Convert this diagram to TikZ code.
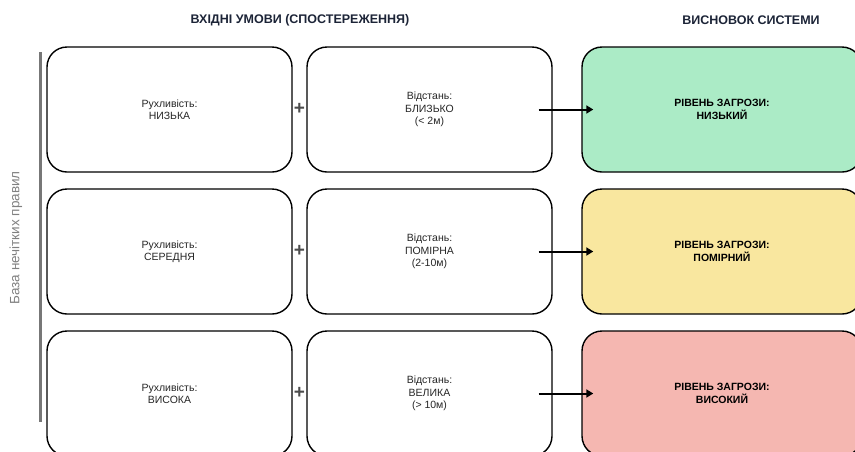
\documentclass[tikz,border=0pt]{standalone}
\usepackage{fontspec}
\setmainfont{Liberation Sans}
\usetikzlibrary{arrows.meta,calc}
\definecolor{hdr}{HTML}{1C2437}
\definecolor{lowc}{HTML}{ABEBC6}
\definecolor{midc}{HTML}{F9E79F}
\definecolor{highc}{HTML}{F5B7B1}
\definecolor{bargray}{HTML}{777777}
\begin{document}
\begin{tikzpicture}[x=1pt,y=-1pt,
  inbox/.style={draw=black,line width=1.4pt,rounded corners=20pt,minimum width=245pt,minimum height=125pt,
    align=center,font=\fontsize{10.5}{12.5}\selectfont,text=black!85,fill=white},
  outbox/.style={inbox,minimum width=280pt,font=\fontsize{10.5}{12.5}\selectfont\bfseries,text=black},
  plussign/.style={font=\fontsize{19}{19}\selectfont\bfseries,text=black!70,inner sep=0pt},
  hdrtext/.style={font=\fontsize{12.5}{14}\selectfont\bfseries,text=hdr},
  conn/.style={line width=2pt,-{Triangle[length=7pt,width=8pt]}}]
\useasboundingbox (0,0) rectangle (855,451);
\node[hdrtext] (h1) at (300,20) {ВХІДНІ УМОВИ (СПОСТЕРЕЖЕННЯ)};
\node[hdrtext] (h2) at (751,20) {ВИСНОВОК СИСТЕМИ};
% left bar
\coordinate (bt) at (40,52);
\coordinate (bb) at (40,422);
\draw[bargray,line width=3pt] (bt) -- (bb);
\node[rotate=90,font=\fontsize{13.5}{15}\selectfont,text=black!50] (rb) at (16,238) {База нечітких правил};
% rows
\node[inbox] (a1) at (169.5,109.5) {Рухливість:\\НИЗЬКА};
\node[inbox] (b1) at (429.5,109.5) {Відстань:\\БЛИЗЬКО\\(< 2м)};
\node[outbox,fill=lowc] (c1) at (722,109.5) {РІВЕНЬ ЗАГРОЗИ:\\НИЗЬКИЙ};
\node[inbox] (a2) at (169.5,251.5) {Рухливість:\\СЕРЕДНЯ};
\node[inbox] (b2) at (429.5,251.5) {Відстань:\\ПОМІРНА\\(2-10м)};
\node[outbox,fill=midc] (c2) at (722,251.5) {РІВЕНЬ ЗАГРОЗИ:\\ПОМІРНИЙ};
\node[inbox] (a3) at (169.5,393.5) {Рухливість:\\ВИСОКА};
\node[inbox] (b3) at (429.5,393.5) {Відстань:\\ВЕЛИКА\\(> 10м)};
\node[outbox,fill=highc] (c3) at (722,393.5) {РІВЕНЬ ЗАГРОЗИ:\\ВИСОКИЙ};
\foreach \i in {1,2,3}{
  \node[plussign] (p\i) at ($(a\i.east)!0.5!(b\i.west)+(0,-0.5)$) {+};
  \draw[conn] ($(b\i.east)+(-14,0)$) -- ($(c\i.west)+(12,0)$);
}
\end{tikzpicture}
\end{document}
